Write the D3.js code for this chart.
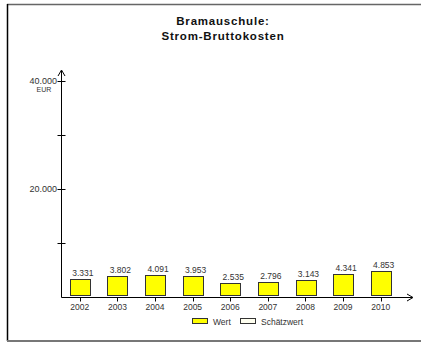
<!DOCTYPE html>
<html><head><meta charset="utf-8">
<script src="https://cdn.jsdelivr.net/npm/d3@7"></script>
<style>body{margin:0;background:#fff}svg{display:block;font-family:"Liberation Sans",Arial,sans-serif}</style>
</head><body><svg id="c" width="421" height="343"></svg>
<script>
const years = ["2002","2003","2004","2005","2006","2007","2008","2009","2010"];
const values = [3331,3802,4091,3953,2535,2796,3143,4341,4853];
const valueLabels = ["3.331","3.802","4.091","3.953","2.535","2.796","3.143","4.341","4.853"];
const yTicks = [10000,20000,30000,40000];
const yTickLabels = {20000:"20.000",40000:"40.000"};
const titleLines = ["Bramauschule:","Strom-Bruttokosten"];
const legendItems = ["Wert","Schätzwert"];

const svg = d3.select("#c");
// frame
svg.append("line").attr("x1",7).attr("x2",421).attr("y1",4.5).attr("y2",4.5).attr("stroke","#666").attr("stroke-width",1.5);
svg.append("line").attr("x1",7.5).attr("x2",7.5).attr("y1",4).attr("y2",341).attr("stroke","#000").attr("stroke-width",1.5);
svg.append("line").attr("x1",7).attr("x2",421).attr("y1",341).attr("y2",341).attr("stroke","#777").attr("stroke-width",2);

// title
const t = svg.append("text").attr("text-anchor","middle").attr("font-weight","bold").attr("font-size",11.5).attr("letter-spacing",0.8).attr("fill","#111");
titleLines.forEach((l,i)=>t.append("tspan").attr("x",223).attr("y",25+i*14.5).text(l));

const x = d3.scaleBand().domain(years).range([61,399.5]).paddingInner(0.47).paddingOuter(0.235);
const y = d3.scaleLinear().domain([0,40000]).range([297,81]);
const axX = 61.5, axY = 297.5;

// y axis
svg.append("line").attr("x1",axX).attr("x2",axX).attr("y1",71).attr("y2",axY).attr("stroke","#000");
svg.append("path").attr("d",`M${axX-3.5},${76} L${axX},${70} L${axX+3.5},${76}`).attr("fill","none").attr("stroke","#000");
svg.selectAll(".yt").data(yTicks).enter().append("line").attr("x1",axX-4).attr("x2",axX+4)
  .attr("y1",d=>Math.round(y(d))+0.5).attr("y2",d=>Math.round(y(d))+0.5).attr("stroke","#000");
svg.selectAll(".yl").data(yTicks.filter(d=>yTickLabels[d])).enter().append("text")
  .attr("x",57).attr("y",d=>y(d)+3).attr("text-anchor","end").attr("font-size",9).attr("fill","#333").text(d=>yTickLabels[d]);
svg.append("text").attr("x",44).attr("y",y(40000)+10.5).attr("text-anchor","middle").attr("font-size",7).attr("fill","#333").text("EUR");

// x axis
svg.append("line").attr("x1",axX).attr("x2",412).attr("y1",axY).attr("y2",axY).attr("stroke","#000");
svg.append("path").attr("d",`M${407},${axY-3.5} L${413},${axY} L${407},${axY+3.5}`).attr("fill","none").attr("stroke","#000");
svg.selectAll(".xt").data(years).enter().append("line")
  .attr("x1",d=>Math.round(x(d)+x.bandwidth()/2)+0.5).attr("x2",d=>Math.round(x(d)+x.bandwidth()/2)+0.5)
  .attr("y1",axY).attr("y2",axY+4).attr("stroke","#000");
svg.selectAll(".xl").data(years).enter().append("text")
  .attr("x",d=>x(d)+x.bandwidth()/2).attr("y",310).attr("text-anchor","middle").attr("font-size",8.5).attr("fill","#333").text(d=>d);

// bars
svg.selectAll(".bar").data(values).enter().append("rect")
  .attr("x",(d,i)=>Math.round(x(years[i]))+0.5).attr("width",Math.round(x.bandwidth()))
  .attr("y",d=>Math.round(y(d))+0.5).attr("height",d=>Math.round(y(0)-2-y(d)))
  .attr("fill","#ffff00").attr("stroke","#333").attr("stroke-width",1);
svg.selectAll(".vl").data(values).enter().append("text")
  .attr("x",(d,i)=>x(years[i])+x.bandwidth()/2+3).attr("y",d=>y(d)-3).attr("text-anchor","middle")
  .attr("font-size",8.5).attr("fill","#333").text((d,i)=>valueLabels[i]);

// legend
const lg = [{x:192,fill:"#ffff00"},{x:240,fill:"#fffff0"}];
legendItems.forEach((name,i)=>{
  svg.append("rect").attr("x",lg[i].x+0.5).attr("y",318.5).attr("width",15).attr("height",5)
    .attr("fill",lg[i].fill).attr("stroke","#333");
  svg.append("text").attr("x",lg[i].x+21).attr("y",324.5).attr("font-size",8.5).attr("fill","#333").text(name);
});
</script></body></html>
